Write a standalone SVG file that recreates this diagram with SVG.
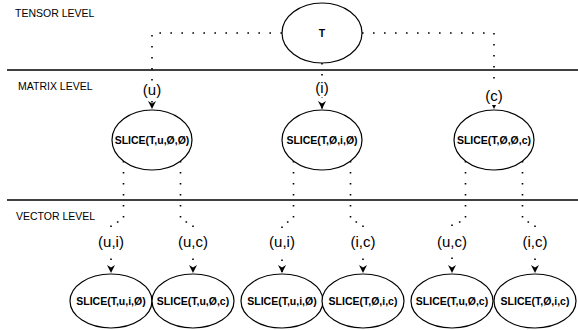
<svg xmlns="http://www.w3.org/2000/svg" width="578" height="330" viewBox="0 0 578 330">
  <style>
    .level { font-family: "Liberation Sans", Arial, sans-serif; font-size: 10.5px; fill: #000; }
    .node ellipse { fill: #fff; stroke: #000; stroke-width: 1.2; }
    .node text { font-family: "Liberation Sans", Arial, sans-serif; font-size: 10.5px; font-weight: bold; text-anchor: middle; fill: #000; }
    .sep { stroke: #000; stroke-width: 1.5; }
    .edge { fill: none; stroke: #000; stroke-width: 1.6; stroke-dasharray: 1.6 9.4; marker-end: url(#arrow); }
    .lbl rect { fill: #fff; }
    .lbl text { font-family: "Liberation Sans", Arial, sans-serif; font-size: 15px; text-anchor: middle; fill: #000; }
  </style>
  <defs>
    <marker id="arrow" markerUnits="userSpaceOnUse" viewBox="0 0 10 10" refX="10" refY="5" markerWidth="8" markerHeight="8" orient="auto">
      <path d="M0,0 L10,5 L0,10 L3,5 Z" fill="#000" stroke="none"/>
    </marker>
  </defs>

  <rect width="578" height="330" fill="#fff"/>

  <!-- level separators and titles -->
  <line class="sep" x1="7" y1="70" x2="578" y2="70"/>
  <line class="sep" x1="7" y1="200" x2="578" y2="200"/>
  <text class="level" x="15" y="17">TENSOR LEVEL</text>
  <text class="level" x="18" y="90">MATRIX LEVEL</text>
  <text class="level" x="16" y="220">VECTOR LEVEL</text>

  <!-- connectors -->
  <g id="connectors">
    <path class="edge" d="M282,33 H152 V109"/>
    <path class="edge" d="M322,63 V109"/>
    <path class="edge" d="M362,33 H494 V109"/>
    <path class="edge" d="M123.5,161 V222 H111 V273"/>
    <path class="edge" d="M180.5,161 V222 H193 V273"/>
    <path class="edge" d="M293.5,161 V222 H282 V273"/>
    <path class="edge" d="M350.5,161 V222 H363 V273"/>
    <path class="edge" d="M465.5,161 V222 H452 V273"/>
    <path class="edge" d="M522.5,161 V222 H535 V273"/>
  </g>

  <!-- connector labels -->
  <g id="edge-labels" class="lbl">
    <rect x="141" y="81" width="22" height="18"/><text x="152" y="95">(u)</text>
    <rect x="314" y="79" width="16" height="18"/><text x="322" y="93">(i)</text>
    <rect x="484" y="87" width="20" height="18"/><text x="494" y="101">(c)</text>
    <rect x="96" y="233" width="30" height="18"/><text x="111" y="247">(u,i)</text>
    <rect x="176" y="233" width="34" height="18"/><text x="193" y="247">(u,c)</text>
    <rect x="267" y="233" width="30" height="18"/><text x="282" y="247">(u,i)</text>
    <rect x="348" y="233" width="30" height="18"/><text x="363" y="247">(i,c)</text>
    <rect x="435" y="233" width="34" height="18"/><text x="452" y="247">(u,c)</text>
    <rect x="520" y="233" width="30" height="18"/><text x="535" y="247">(i,c)</text>
  </g>

  <!-- tensor node -->
  <g id="node-T" class="node">
    <ellipse cx="322" cy="33" rx="40" ry="30"/>
    <text x="322" y="37">T</text>
  </g>

  <!-- matrix nodes -->
  <g id="node-slice-u" class="node">
    <ellipse cx="152" cy="140" rx="40" ry="30"/>
    <text x="152" y="144">SLICE(T,u,Ø,Ø)</text>
  </g>
  <g id="node-slice-i" class="node">
    <ellipse cx="322" cy="140" rx="40" ry="30"/>
    <text x="322" y="144">SLICE(T,Ø,i,Ø)</text>
  </g>
  <g id="node-slice-c" class="node">
    <ellipse cx="494" cy="140" rx="40" ry="30"/>
    <text x="494" y="144">SLICE(T,Ø,Ø,c)</text>
  </g>

  <!-- vector nodes -->
  <g id="node-slice-ui-a" class="node">
    <ellipse cx="111" cy="301" rx="41" ry="27"/>
    <text x="111" y="305">SLICE(T,u,i,Ø)</text>
  </g>
  <g id="node-slice-uc-a" class="node">
    <ellipse cx="193" cy="301" rx="41" ry="27"/>
    <text x="193" y="305">SLICE(T,u,Ø,c)</text>
  </g>
  <g id="node-slice-ui-b" class="node">
    <ellipse cx="282" cy="301" rx="41" ry="27"/>
    <text x="282" y="305">SLICE(T,u,i,Ø)</text>
  </g>
  <g id="node-slice-ic-a" class="node">
    <ellipse cx="363" cy="301" rx="41" ry="27"/>
    <text x="363" y="305">SLICE(T,Ø,i,c)</text>
  </g>
  <g id="node-slice-uc-b" class="node">
    <ellipse cx="452" cy="301" rx="41" ry="27"/>
    <text x="452" y="305">SLICE(T,u,Ø,c)</text>
  </g>
  <g id="node-slice-ic-b" class="node">
    <ellipse cx="535" cy="301" rx="41" ry="27"/>
    <text x="535" y="305">SLICE(T,Ø,i,c)</text>
  </g>
</svg>
